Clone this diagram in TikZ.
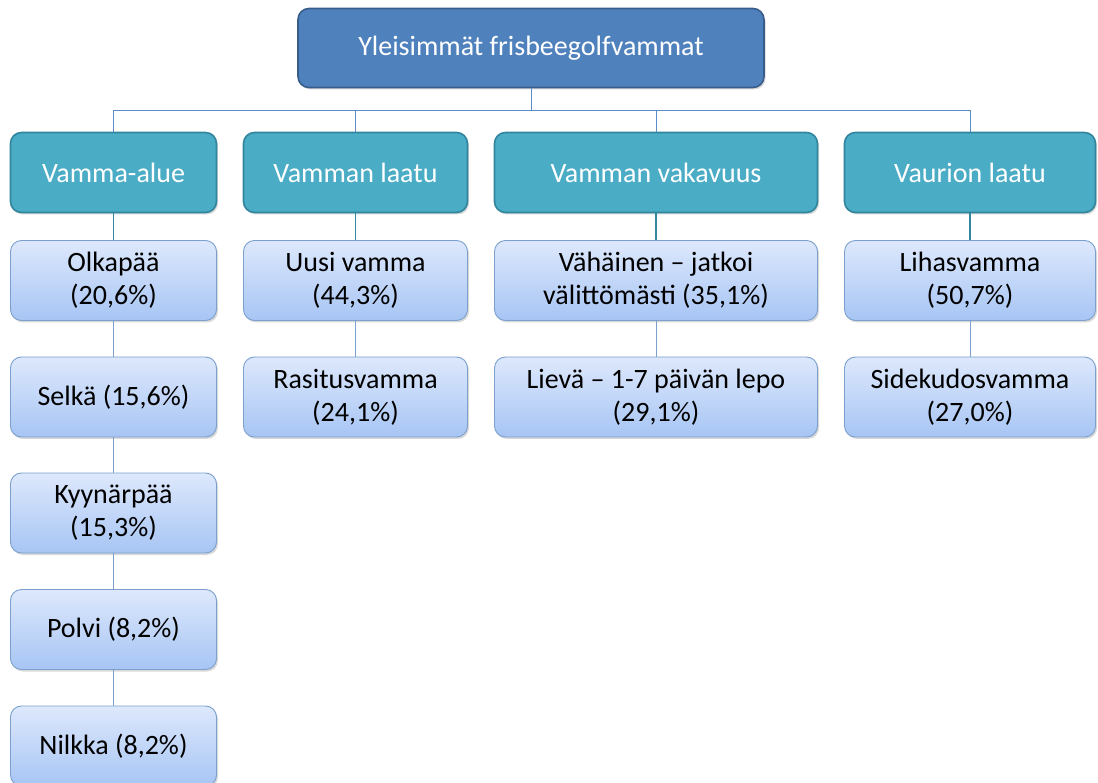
\documentclass[tikz,border=0pt]{standalone}
\usepackage{fontspec}
\setmainfont{Carlito}
\usetikzlibrary{shadows}
\definecolor{topfill}{HTML}{4F81BD}
\definecolor{topline}{HTML}{385D8A}
\definecolor{headfill}{HTML}{4BACC6}
\definecolor{headline}{HTML}{31859C}
\definecolor{leaftop}{HTML}{DDE8FC}
\definecolor{leafbot}{HTML}{A7C5F4}
\definecolor{leafline}{HTML}{7BA0CD}
\definecolor{busline}{HTML}{5B8CC8}
\tikzset{
  boxbase/.style={rounded corners=11pt, align=center, inner sep=2pt,
    font=\fontsize{28}{33}\selectfont,
    drop shadow={shadow xshift=1.5pt, shadow yshift=-2pt, opacity=0.25, fill=black!60}},
  topbox/.style={boxbase, fill=topfill, draw=topline, line width=1.6pt, text=white,
    minimum width=466pt, minimum height=79pt},
  headbox/.style={boxbase, fill=headfill, draw=headline, line width=1.6pt, text=white,
    minimum height=80pt},
  leafbox/.style={boxbase, top color=leaftop, bottom color=leafbot, draw=leafline,
    line width=0.9pt, text=black, minimum height=80pt},
  busconn/.style={draw=busline, line width=0.8pt},
  headconn/.style={draw=headline, line width=1.8pt},
  leafconn/.style={draw=leafline, line width=1pt},
}
\begin{document}
\begin{tikzpicture}[x=1pt,y=-1pt]
\useasboundingbox (0,0) rectangle (1098,783);
\coordinate (bus) at (531,110);
% top
\node[topbox] (top) at (531,48) {Yleisimmät frisbeegolfvammat};
% headers
\node[headbox, minimum width=206pt] (h1) at (113.5,172.5) {Vamma-alue};
\node[headbox, minimum width=224pt] (h2) at (355.5,172.5) {Vamman laatu};
\node[headbox, minimum width=323pt] (h3) at (656,172.5) {Vamman vakavuus};
\node[headbox, minimum width=251pt] (h4) at (970,172.5) {Vaurion laatu};
% bus connectors
\draw[busconn] (top.south) -- (top.south |- bus);
\draw[busconn] (h1.north |- bus) -- (h4.north |- bus);
\foreach \h in {h1,h2,h3,h4} \draw[busconn] (\h.north |- bus) -- (\h.north);
% column 1
\node[leafbox, minimum width=206pt] (a1) at (113.5,280.5) {Olkapää\\(20,6\%)};
\node[leafbox, minimum width=206pt] (a2) at (113.5,397) {Selkä (15,6\%)};
\node[leafbox, minimum width=206pt] (a3) at (113.5,513) {Kyynärpää\\(15,3\%)};
\node[leafbox, minimum width=206pt] (a4) at (113.5,629.5) {Polvi (8,2\%)};
\node[leafbox, minimum width=206pt] (a5) at (113.5,746) {Nilkka (8,2\%)};
% column 2
\node[leafbox, minimum width=224pt] (b1) at (355.5,280.5) {Uusi vamma\\(44,3\%)};
\node[leafbox, minimum width=224pt] (b2) at (355.5,397) {Rasitusvamma\\(24,1\%)};
% column 3
\node[leafbox, minimum width=323pt] (c1) at (656,280.5) {Vähäinen – jatkoi\\välittömästi (35,1\%)};
\node[leafbox, minimum width=323pt] (c2) at (656,397) {Lievä – 1-7 päivän lepo\\(29,1\%)};
% column 4
\node[leafbox, minimum width=251pt] (d1) at (970,280.5) {Lihasvamma\\(50,7\%)};
\node[leafbox, minimum width=251pt] (d2) at (970,397) {Sidekudosvamma\\(27,0\%)};
% header to first leaf
\draw[headconn] (h1.south) -- (a1.north);
\draw[headconn] (h2.south) -- (b1.north);
\draw[headconn] (h3.south) -- (c1.north);
\draw[headconn] (h4.south) -- (d1.north);
% leaf chains
\draw[leafconn] (a1.south) -- (a2.north);
\draw[leafconn] (a2.south) -- (a3.north);
\draw[leafconn] (a3.south) -- (a4.north);
\draw[leafconn] (a4.south) -- (a5.north);
\draw[leafconn] (b1.south) -- (b2.north);
\draw[leafconn] (c1.south) -- (c2.north);
\draw[leafconn] (d1.south) -- (d2.north);
\end{tikzpicture}
\end{document}
